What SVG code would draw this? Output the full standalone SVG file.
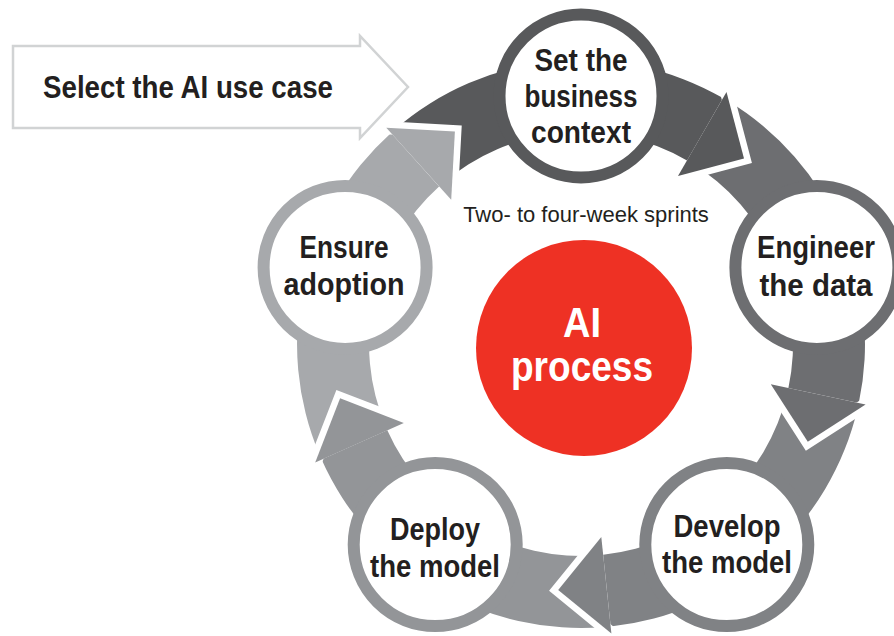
<svg xmlns="http://www.w3.org/2000/svg" width="894" height="636" viewBox="0 0 894 636">
<style>
.lbl{font-family:"Liberation Sans",Arial,sans-serif;font-weight:bold;fill:#231f20;text-anchor:middle;font-size:31px}
.gap{fill:none;stroke:#ffffff;stroke-width:13;stroke-linejoin:miter;stroke-miterlimit:10}
.ring{fill:#ffffff;stroke-width:12}
.c1{fill:#58595b}.c2{fill:#6d6e71}.c3{fill:#808285}.c4{fill:#939598}.c5{fill:#a7a9ac}
.s1{stroke:#58595b}.s2{stroke:#6d6e71}.s3{stroke:#808285}.s4{stroke:#939598}.s5{stroke:#a7a9ac}
</style>
<rect width="894" height="636" fill="#ffffff"/>
<g id="select">
<polygon points="13,46 360,46 360,36 408,87 360,138 360,128 13,128" fill="#ffffff" stroke="#d1d3d4" stroke-width="2.5"/>
<text x="43" y="98" class="lbl" style="text-anchor:start;font-size:32px" textLength="290" lengthAdjust="spacingAndGlyphs">Select the AI use case</text>
</g>
<g id="connectors">
<path class="c1" d="M394.7,129.7 A284,284 0 0 1 723,98.1 L687,160.4 A212,212 0 0 0 441.9,184 Z"/>
<path class="c2" d="M727.3,100.6 A284,284 0 0 1 858.8,403 L788.4,388.1 A212,212 0 0 0 690.2,162.3 Z"/>
<path class="c3" d="M857.7,407.9 A284,284 0 0 1 610.7,626.4 L603.2,554.8 A212,212 0 0 0 787.6,391.7 Z"/>
<path class="c4" d="M605.8,626.9 A284,284 0 0 1 321.6,459.5 L387.3,430.2 A212,212 0 0 0 599.5,555.2 Z"/>
<path class="c5" d="M319.6,455 A284,284 0 0 1 391,133 L439.1,186.5 A212,212 0 0 0 385.9,426.8 Z"/>
<polyline class="gap" points="726.5,92 744,158.5 678,176"/>
<polygon class="c1" points="726.5,92 744,158.5 678,176"/>
<polyline class="gap" points="865.6,404.5 807.8,441.7 770.8,384.3"/>
<polygon class="c2" points="865.6,404.5 807.8,441.7 770.8,384.3"/>
<polyline class="gap" points="611.4,633.4 558.2,589.9 601.3,536.9"/>
<polygon class="c3" points="611.4,633.4 558.2,589.9 601.3,536.9"/>
<polyline class="gap" points="315.2,462.4 340.1,398.3 403.8,422.9"/>
<polygon class="c4" points="315.2,462.4 340.1,398.3 403.8,422.9"/>
<polyline class="gap" points="386.3,127.8 454.9,131.6 451.2,199.8"/>
<polygon class="c5" points="386.3,127.8 454.9,131.6 451.2,199.8"/>
</g>
<g id="sprints">
<text x="586" y="222" style="font-family:'Liberation Sans',Arial,sans-serif;font-size:22px;fill:#231f20;text-anchor:middle">Two- to four-week sprints</text>
</g>
<g id="ai-process">
<circle cx="584" cy="348" r="108" fill="#ee3124"/>
<text x="582" y="337" class="lbl" style="fill:#ffffff;font-size:42px" textLength="38" lengthAdjust="spacingAndGlyphs">AI</text>
<text x="582" y="381" class="lbl" style="fill:#ffffff;font-size:42px" textLength="142" lengthAdjust="spacingAndGlyphs">process</text>
</g>
<g id="node-business">
<circle cx="581" cy="96" r="81.5" class="ring s1"/>
<text x="581" y="71" class="lbl" textLength="93" lengthAdjust="spacingAndGlyphs">Set the</text>
<text x="581" y="107" class="lbl" textLength="113" lengthAdjust="spacingAndGlyphs">business</text>
<text x="581" y="143" class="lbl" textLength="100" lengthAdjust="spacingAndGlyphs">context</text>
</g>
<g id="node-data">
<circle cx="816.9" cy="267.4" r="81.5" class="ring s2"/>
<text x="816" y="258" class="lbl" textLength="118" lengthAdjust="spacingAndGlyphs">Engineer</text>
<text x="816" y="296" class="lbl" textLength="113" lengthAdjust="spacingAndGlyphs">the data</text>
</g>
<g id="node-develop">
<circle cx="726.8" cy="544.6" r="81.5" class="ring s3"/>
<text x="727" y="537" class="lbl" textLength="107" lengthAdjust="spacingAndGlyphs">Develop</text>
<text x="727" y="573" class="lbl" textLength="130" lengthAdjust="spacingAndGlyphs">the model</text>
</g>
<g id="node-deploy">
<circle cx="435.2" cy="544.6" r="81.5" class="ring s4"/>
<text x="435" y="540" class="lbl" textLength="90" lengthAdjust="spacingAndGlyphs">Deploy</text>
<text x="435" y="577" class="lbl" textLength="130" lengthAdjust="spacingAndGlyphs">the model</text>
</g>
<g id="node-adoption">
<circle cx="345.1" cy="267.4" r="81.5" class="ring s5"/>
<text x="344" y="258" class="lbl" textLength="89" lengthAdjust="spacingAndGlyphs">Ensure</text>
<text x="344" y="295" class="lbl" textLength="121" lengthAdjust="spacingAndGlyphs">adoption</text>
</g>
</svg>
